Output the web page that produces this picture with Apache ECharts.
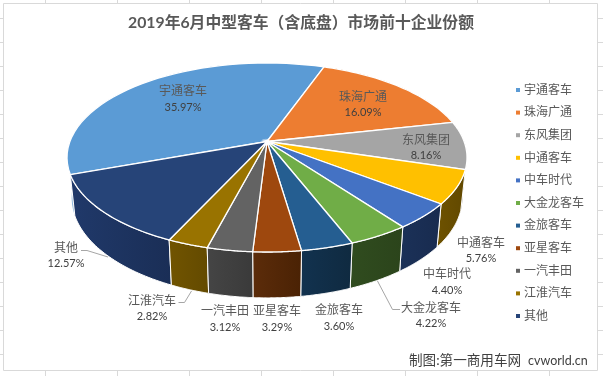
<!DOCTYPE html>
<html>

<head>
	<meta charset="UTF-8">
	<title></title>
	<style>
		html, body { margin: 0; padding: 0; background: #fff; }
	</style>
	<script src="https://cdn.jsdelivr.net/npm/echarts@6/dist/echarts.min.js"></script>
</head>

<body>
	<div style="width:603px;height:376px" id="main"></div>
	<script>
		var names = ['宇通客车', '珠海广通', '东风集团', '中通客车', '中车时代', '大金龙客车', '金旅客车', '亚星客车', '一汽丰田', '江淮汽车', '其他'];
		var shares = [35.97, 16.09, 8.16, 5.76, 4.40, 4.22, 3.60, 3.29, 3.12, 2.82, 12.57];

		var topColors = ['#5B9BD5', '#ED7D31', '#A5A5A5', '#FFC000', '#4472C4', '#70AD47', '#255E91', '#9E480E', '#636363', '#997300', '#264478'];
		var wallColorsL = ['#8fb8de', '#8a4a1c', '#606060', '#6e5200', '#1b3158', '#304c1f', '#12324f', '#5c2c0a', '#454545', '#715400', '#20396a'];
		var wallColorsR = ['#8fb8de', '#8a4a1c', '#606060', '#614800', '#182b4f', '#2b441b', '#0f2a40', '#4a2204', '#3a3a3a', '#634a00', '#1a2e56'];

		// 标签中心位置 [x, 名称y, 百分比y]
		var labelPos = [[183, 91, 107], [363, 97, 112], [426, 140, 155], [481, 243, 258], [447, 274, 290], [431, 308, 323], [339, 310, 326], [277, 311, 327], [225, 311, 327], [152, 301, 316], [66, 248, 263]];
		var leaders = {
			5: [[377.5, 281], [392.5, 309.5], [400, 309.5]],
			9: [[178.5, 302.5], [184.5, 302.5], [191.5, 291]],
			10: [[81, 250.5], [87, 250.5], [108, 257]]
		};

		// 透视椭圆参数
		var cx = 267, cy = 141.5, persp = 0.1693, rx = 197.1, ry = 91.8;
		var startDeg = 250.1;
		var font = 'Lato, "Noto Sans CJK SC", sans-serif';

		function topPoint(deg) {
			var a = deg * Math.PI / 180;
			var x = Math.sin(a), y = -Math.cos(a);
			var w = 1 - persp * y;
			return [cx + rx * x / w, cy + ry * y / w];
		}

		// 顶面的点往下投到底面
		function bottomPoint(p) {
			return [cx + 0.977 * (p[0] - cx), p[1] + 43 + 0.06 * (p[1] - 204)];
		}

		function arcPoints(d0, d1) {
			var pts = [];
			for (var i = 0; i <= 40; i++) {
				pts.push(topPoint(d0 + (d1 - d0) * i / 40));
			}
			return pts;
		}

		function labelText(text, x, y, size, color) {
			return {
				type: 'text',
				z2: 100,
				x: x,
				y: y,
				style: {
					text: text,
					font: size + 'px ' + font,
					fill: color,
					align: 'center',
					verticalAlign: 'middle'
				}
			};
		}

		function renderSlice(params, api) {
			var idx = params.seriesIndex;
			var before = api.value(1);
			var d0 = startDeg + before * 3.6;
			var d1 = d0 + api.value(0) * 3.6;
			var arc = arcPoints(d0, d1);
			var wall = arc.concat(arc.map(bottomPoint).reverse());
			var mid = (d0 + d1) / 2 * Math.PI / 180;
			var pos = labelPos[idx];
			var children = [{
				type: 'polygon',
				z2: Math.round(20 - 10 * Math.cos(mid)),
				shape: { points: wall },
				style: {
					fill: new echarts.graphic.LinearGradient(0, 0, 1, 0, [
						{ offset: 0, color: wallColorsL[idx] },
						{ offset: 1, color: wallColorsR[idx] }
					]),
					stroke: '#fff',
					lineWidth: idx < 3 ? 0 : 1
				}
			}, {
				type: 'polygon',
				z2: 50,
				shape: { points: [[cx, cy]].concat(arc) },
				style: { fill: topColors[idx], stroke: '#fff', lineWidth: 1.3 }
			},
			labelText(names[idx], pos[0], pos[1], 12, '#595959'),
			labelText(api.value(0).toFixed(2) + '%', pos[0], pos[2], 11, '#404040')];
			if (leaders[idx]) {
				children.push({
					type: 'polyline',
					z2: 60,
					shape: { points: leaders[idx] },
					style: { fill: 'none', stroke: '#a6a6a6', lineWidth: 1 }
				});
			}
			return { type: 'group', children: children };
		}

		// 外面一圈表格线
		var sheet = [{
			type: 'rect',
			shape: { x: 3.5, y: 3.5, width: 594, height: 367 },
			style: { fill: '#fff', stroke: '#d9d9d9', lineWidth: 1 }
		}];
		for (var gx = 45.5; gx < 603; gx += 72) {
			sheet.push({ type: 'line', shape: { x1: gx, y1: 0, x2: gx, y2: 3 }, style: { stroke: '#d9d9d9' } });
			sheet.push({ type: 'line', shape: { x1: gx, y1: 371, x2: gx, y2: 376 }, style: { stroke: '#d9d9d9' } });
		}
		for (var gy = 18.5; gy < 370; gy += 24) {
			sheet.push({ type: 'line', shape: { x1: 0, y1: gy, x2: 3, y2: gy }, style: { stroke: '#d9d9d9' } });
			sheet.push({ type: 'line', shape: { x1: 598, y1: gy, x2: 603, y2: gy }, style: { stroke: '#d9d9d9' } });
		}

		var series = [];
		var running = 0;
		for (var i = 0; i < names.length; i++) {
			series.push({
				type: 'custom',
				name: names[i],
				coordinateSystem: 'none',
				renderItem: renderSlice,
				itemStyle: { color: topColors[i] },
				silent: true,
				data: [[shares[i], running]]
			});
			running += shares[i];
		}

		var myChart = echarts.init(document.getElementById('main'));
		myChart.setOption({
			animation: false,
			title: {
				text: '2019年6月中型客车（含底盘）市场前十企业份额',
				left: 128,
				top: 15,
				padding: 0,
				textStyle: { color: '#595959', fontSize: 15.8, fontWeight: 'bold', fontFamily: font }
			},
			legend: {
				orient: 'vertical',
				left: 516,
				top: 84,
				padding: 0,
				icon: 'rect',
				itemWidth: 4,
				itemHeight: 4,
				itemGap: 10.6,
				selectedMode: false,
				data: names,
				textStyle: { color: '#595959', fontSize: 12, fontFamily: font, padding: [0, 0, 0, -1] }
			},
			graphic: sheet.map(function(el) {
				el.z = -10;
				el.silent = true;
				return el;
			}).concat([{
				type: 'text',
				x: 409,
				y: 361,
				z: 10,
				style: {
					text: '制图:第一商用车网',
					font: '13.6px ' + font,
					fill: '#404040',
					verticalAlign: 'middle'
				}
			}, {
				type: 'text',
				x: 528,
				y: 361,
				z: 10,
				style: {
					text: 'cvworld.cn',
					font: '12.5px ' + font,
					fill: '#404040',
					verticalAlign: 'middle'
				}
			}]),
			series: series
		});
	</script>
</body>

</html>
